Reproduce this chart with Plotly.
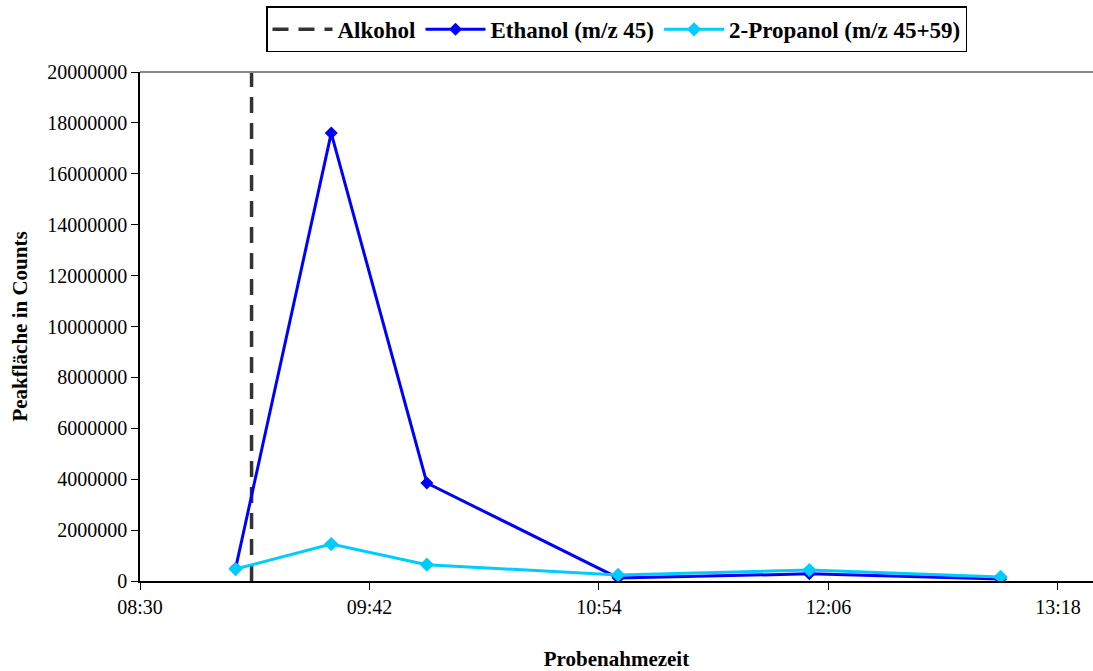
import plotly.graph_objects as go

times = ["09:00", "09:30", "10:00", "11:00", "12:00", "13:00"]
ethanol = [500000, 17600000, 3850000, 120000, 280000, 80000]
propanol = [470000, 1450000, 640000, 240000, 430000, 160000]
alkohol_time = "09:05"
alkohol_y = [0, 20000000]

day = "2000-01-01 "
x = [day + t for t in times]

ff = "Liberation Serif"

fig = go.Figure()
fig.add_trace(go.Scatter(
    x=[day + alkohol_time] * 2, y=alkohol_y, mode="lines", name="Alkohol",
    line=dict(color="#333333", width=3.5, dash="16px,10px")))
fig.add_trace(go.Scatter(
    x=x, y=ethanol, mode="lines+markers", name="Ethanol (m/z 45)",
    line=dict(color="#0000FF", width=3),
    marker=dict(symbol="diamond", size=10, color="#0000FF")))
fig.add_trace(go.Scatter(
    x=x, y=propanol, mode="lines+markers", name="2-Propanol (m/z 45+59)",
    line=dict(color="#00CCFF", width=3),
    marker=dict(symbol="diamond", size=11, color="#00CCFF")))

fig.update_layout(
    width=1093, height=671,
    margin=dict(l=140, r=0, t=72, b=90),
    plot_bgcolor="white", paper_bgcolor="white",
    font=dict(family=ff, size=20, color="black"),
    showlegend=True,
    legend=dict(orientation="h", x=0.5, xanchor="center", y=0.922, yanchor="bottom",
                yref="container", bordercolor="black", borderwidth=1.5,
                font=dict(size=23, family=ff, weight="bold", color="black"),
                itemwidth=60, tracegroupgap=0),
    xaxis=dict(
        type="date", range=[day + "08:30", day + "13:29"],
        tick0=day + "08:30", dtick=72 * 60 * 1000, tickformat="%H:%M",
        tickfont=dict(family=ff, size=20, color="black"),
        showgrid=False, showline=True, linecolor="black", linewidth=2,
        ticks="outside", ticklen=7, tickcolor="black", tickwidth=1,
        automargin=False,
        title=dict(text="<b>Probenahmezeit</b>", standoff=40,
                   font=dict(family=ff, size=21, color="black")),
        zeroline=False),
    yaxis=dict(
        range=[0, 20000000], dtick=2000000, tickformat="d",
        tickfont=dict(family=ff, size=20, color="black"),
        showgrid=False, showline=True, linecolor="black", linewidth=1.5,
        ticks="outside", ticklen=7, tickcolor="black", tickwidth=1,
        automargin=False,
        title=dict(text="<b>Peakfläche in Counts</b>", standoff=14,
                   font=dict(family=ff, size=21, color="black")),
        zeroline=False),
)
fig.add_shape(type="line", xref="paper", yref="paper", x0=0, x1=1, y0=1, y1=1,
              line=dict(color="#888888", width=2))
fig.write_html("out.html")
